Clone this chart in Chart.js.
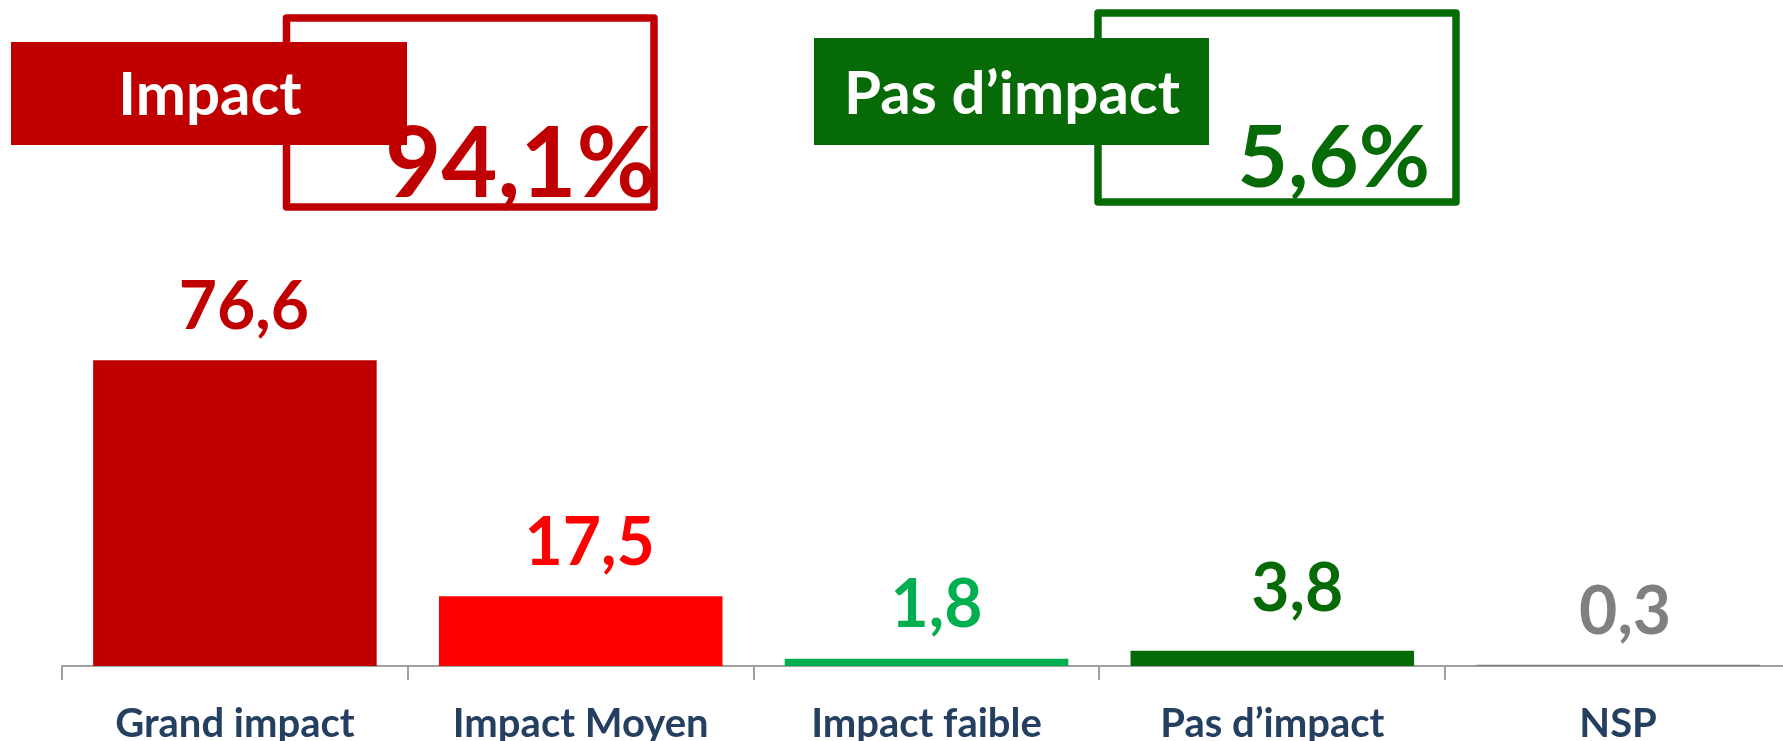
<!DOCTYPE html>
<html lang="fr">
<head>
<meta charset="utf-8">
<title>Impact</title>
<script src="https://cdn.jsdelivr.net/npm/chart.js@4/dist/chart.umd.min.js"></script>
<style>
  html, body { margin: 0; padding: 0; background: #fff; overflow: hidden; }
  #wrap { width: 1800px; height: 741px; overflow: hidden; }
</style>
</head>
<body>
<div id="wrap"><canvas id="chart" width="1800" height="768"></canvas></div>
<script>
"use strict";

/* ---- data ---- */
const categories = ["Grand impact", "Impact Moyen", "Impact faible", "Pas d’impact", "NSP"];
const values = [76.6, 17.5, 1.8, 3.8, 0.3];
const barColors = ["#C00000", "#FF0000", "#00B050", "#066A06", "#808080"];

// summary boxes at the top: which bars add up into each one
const groupNames = ["Impact", "Pas d’impact"];
const groupMembers = [[0, 1], [2, 3]];
const groupColors = ["#C00000", "#066A06"];

const FONT = "Lato, 'Open Sans', sans-serif";

function fmt(v) { return v.toFixed(1).replace(".", ","); }

/* ---- value labels above the bars ---- */
const valueLabels = {
  id: "valueLabels",
  afterDatasetsDraw(chart, args, opts) {
    const ctx = chart.ctx;
    const meta = chart.getDatasetMeta(0);
    ctx.save();
    ctx.font = `bold ${opts.size}px ${FONT}`;
    ctx.textAlign = "center";
    ctx.textBaseline = "alphabetic";
    meta.data.forEach((bar, i) => {
      ctx.fillStyle = barColors[i];
      ctx.fillText(fmt(values[i]), bar.x + opts.shift[i], bar.y - opts.lift[i]);
    });
    ctx.restore();
  },
};

/* ---- "Impact" / "Pas d'impact" boxes with totals ---- */
const groupBoxes = {
  id: "groupBoxes",
  afterDraw(chart, args, opts) {
    const ctx = chart.ctx;
    opts.boxes.forEach((b, g) => {
      const col = groupColors[g];
      const total = groupMembers[g].reduce((s, i) => s + values[i], 0);
      ctx.save();
      ctx.strokeStyle = col;
      ctx.lineWidth = 7.5;
      ctx.lineJoin = "round";
      ctx.strokeRect(b.frame[0], b.frame[1], b.frame[2], b.frame[3]);
      ctx.fillStyle = col;
      ctx.fillRect(b.tag[0], b.tag[1], b.tag[2], b.tag[3]);
      ctx.fillStyle = "#fff";
      ctx.font = `bold ${opts.nameSize}px ${FONT}`;
      ctx.textAlign = "center";
      ctx.fillText(groupNames[g], b.name[0], b.name[1]);
      ctx.fillStyle = col;
      ctx.font = `bold ${b.totalSize}px ${FONT}`;
      ctx.textAlign = "right";
      ctx.fillText(fmt(total) + "%", b.total[0], b.total[1]);
      ctx.restore();
    });
  },
};

new Chart(document.getElementById("chart"), {
  type: "bar",
  data: {
    labels: categories,
    datasets: [{
      data: values,
      backgroundColor: barColors,
      categoryPercentage: 1,
      barPercentage: 0.82,
    }],
  },
  options: {
    responsive: false,
    animation: false,
    // canvas is a bit taller than the window; the x axis block overhangs the bottom
    layout: { padding: { left: 62, right: 9, top: 267, bottom: 0 } },
    plugins: {
      legend: { display: false },
      tooltip: { enabled: false },
      valueLabels: { size: 66, shift: [9, 9, 10, 25, 7], lift: [31, 31, 32, 40, 31] },
      groupBoxes: {
        nameSize: 60,
        boxes: [
          { frame: [286.5, 18, 367.5, 189], tag: [11, 42, 396, 103], name: [210, 115], total: [656, 197], totalSize: 97 },
          { frame: [1098, 13, 358, 189], tag: [814, 38, 395, 107], name: [1012, 114], total: [1430, 187], totalSize: 87 },
        ],
      },
    },
    scales: {
      y: { display: false, min: 0, max: 100 },
      x: {
        grid: { display: true, drawOnChartArea: false, drawTicks: true, tickLength: 14, color: "#A0A0A0", lineWidth: 2 },
        border: { display: true, color: "#A0A0A0", width: 2 },
        ticks: {
          color: "#243F60",
          font: { family: FONT, size: 40, weight: "bold", lineHeight: 1 },
          padding: 24,
          maxRotation: 0,
          autoSkip: false,
        },
      },
    },
  },
  plugins: [valueLabels, groupBoxes],
});
</script>
</body>
</html>
